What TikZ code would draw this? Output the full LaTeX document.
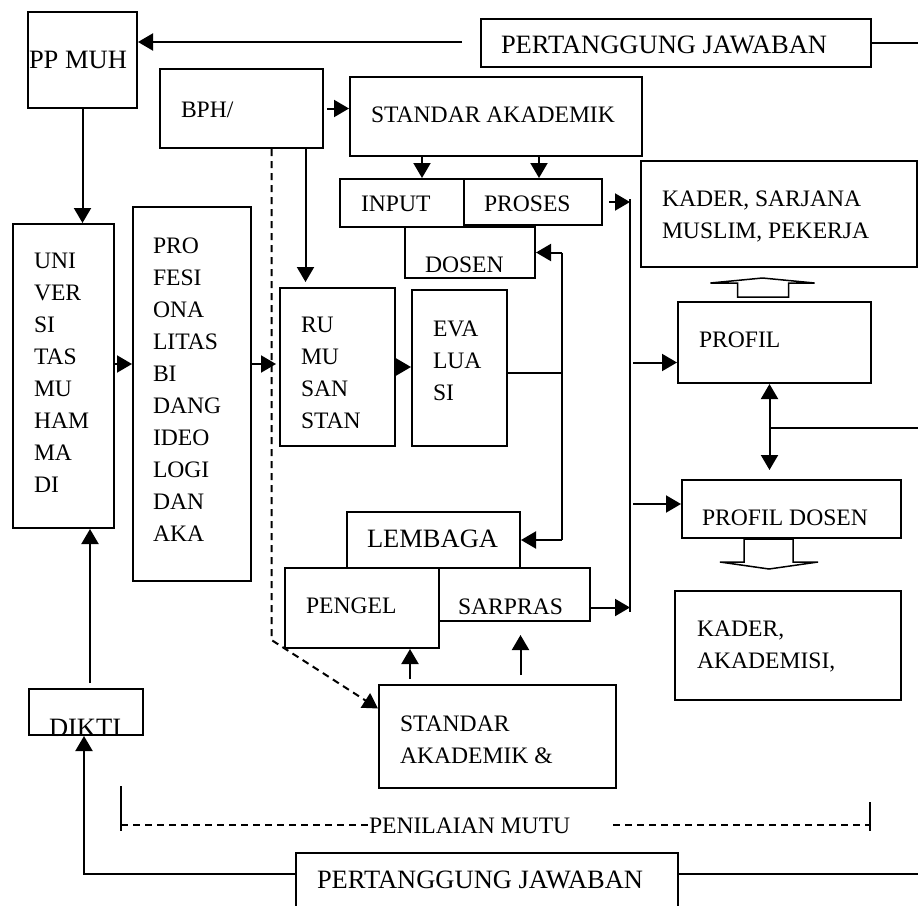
\documentclass[tikz,border=0pt]{standalone}
\usepackage{fontspec}
\setmainfont{Liberation Serif}
\usetikzlibrary{arrows.meta}
\begin{document}
\begin{tikzpicture}[x=1pt,y=-1pt,line width=2pt,
    box/.style={draw, anchor=north west},
    teks/.style={font=\fontsize{23.6}{32}\selectfont, align=left},
    teksbesar/.style={font=\fontsize{26.5}{32}\selectfont},
    arr/.style={-{Triangle[length=15pt,width=17pt]}},
    arrdua/.style={{Triangle[length=15pt,width=17pt]}-{Triangle[length=15pt,width=17pt]}},
    putus/.style={dash pattern=on 7pt off 5pt}]
    \tikzstyle{every node}+=[inner sep=0pt]
    \useasboundingbox (0,0) rectangle (918,905);
    \clip (0,0) rectangle (918,905);
    \node [box, minimum width=109pt, minimum height=96pt] (ppmuh) at (27,11) {};
    \node [box, minimum width=390pt, minimum height=48pt] (pjatas) at (480,18) {};
    \node [box, minimum width=163pt, minimum height=79pt] (bph) at (159,68) {};
    \node [box, minimum width=292pt, minimum height=79pt] (stdak) at (349,76) {};
    \node [box, minimum width=124pt, minimum height=48pt] (input) at (339,178) {};
    \node [box, minimum width=138pt, minimum height=46pt] (proses) at (463,178) {};
    \node [box, minimum width=130pt, minimum height=51pt] (dosen) at (404,226) {};
    \node [box, minimum width=276pt, minimum height=106pt] (kader) at (640,160) {};
    \node [box, minimum width=101pt, minimum height=304pt] (univ) at (12,223) {};
    \node [box, minimum width=118pt, minimum height=374pt] (profesi) at (132,206) {};
    \node [box, minimum width=115pt, minimum height=158pt] (rumus) at (279,287) {};
    \node [box, minimum width=95pt, minimum height=156pt] (evaluasi) at (411,289) {};
    \node [box, minimum width=193pt, minimum height=81pt] (profil) at (677,301) {};
    \node [box, minimum width=219pt, minimum height=58pt] (profdosen) at (681,479) {};
    \node [box, minimum width=173pt, minimum height=56pt] (lembaga) at (346,511) {};
    \node [box, minimum width=154pt, minimum height=80pt] (pengel) at (284,567) {};
    \node [box, minimum width=151pt, minimum height=53pt] (sarpras) at (438,567) {};
    \node [box, minimum width=226pt, minimum height=109pt] (akademisi) at (674,590) {};
    \node [box, minimum width=237pt, minimum height=103pt] (stdsarpras) at (378,684) {};
    \node [box, minimum width=114pt, minimum height=46pt] (dikti) at (28,688) {};
    \node [box, minimum width=382pt, minimum height=70pt] (pjbawah) at (295,852) {};
    \node [teksbesar, anchor=base west] (l-ppmuh) at (28,68) {PP MUH};
    \node [teksbesar, anchor=base west] (l-pjatas) at (500,53) {PERTANGGUNG JAWABAN};
    \node [teks, anchor=base west] (l-bph) at (180,117) {BPH/};
    \node [teks, anchor=base west] (l-stdak) at (370,122) {STANDAR AKADEMIK};
    \node [teks, anchor=base west] (l-input) at (360,211) {INPUT};
    \node [teks, anchor=base west] (l-proses) at (483,211) {PROSES};
    \node [teks, anchor=base west] (l-dosen) at (424,272) {DOSEN};
    \node [teks, anchor=north west] (l-kader) at (661,189.5) {KADER, SARJANA\\MUSLIM, PEKERJA};
    \node [teks, anchor=north west] (l-univ) at (33,252.5) {UNI\\VER\\SI\\TAS\\MU\\HAM\\MA\\DI};
    \node [teks, anchor=north west] (l-profesi) at (152,236.5) {PRO\\FESI\\ONA\\LITAS\\BI\\DANG\\IDEO\\LOGI\\DAN\\AKA};
    \node [teks, anchor=north west] (l-rumus) at (300,316.5) {RU\\MU\\SAN\\STAN};
    \node [teks, anchor=north west] (l-evaluasi) at (432,319.5) {EVA\\LUA\\SI};
    \node [teks, anchor=base west] (l-profil) at (698,347) {PROFIL};
    \node [teks, anchor=base west] (l-profdosen) at (701,525) {PROFIL DOSEN};
    \node [teksbesar, anchor=base west] (l-lembaga) at (366,547) {LEMBAGA};
    \node [teks, anchor=base west] (l-pengel) at (305,613) {PENGEL};
    \node [teks, anchor=base west] (l-sarpras) at (457,614) {SARPRAS};
    \node [teks, anchor=north west] (l-akademisi) at (696,619.5) {KADER,\\AKADEMISI,};
    \node [teks, anchor=north west] (l-stdsarpras) at (399,714.5) {STANDAR\\AKADEMIK \&};
    \node [teksbesar, anchor=base west] (l-dikti) at (48,736) {DIKTI};
    \node [teks, anchor=base west] (mutu) at (368,833) {PENILAIAN MUTU};
    \node [teksbesar, anchor=base west] (l-pjbawah) at (316,888) {PERTANGGUNG JAWABAN};
    \coordinate (pjmasuk) at (462,42);
    \coordinate (tepi) at (918,42);
    \coordinate (jalur) at (630,199);
    \coordinate (jalurbawah) at (630,612);
    \coordinate (balik) at ([xshift=26pt]dosen.east);
    \coordinate (balikbawah) at (balik |- lembaga.east);
    \coordinate (mutukiri) at (121,786);
    \coordinate (mutukanan) at (870,802);
    \draw [arr] (pjmasuk) -- (pjmasuk -| ppmuh.east);
    \draw (pjatas.east) -- (pjatas.east -| tepi);
    \draw [arr] (ppmuh.south) -- (ppmuh.south |- univ.north);
    \draw [arr, putus, shorten <=3pt] (bph.east) -- (bph.east -| stdak.west);
    \draw [arr] ([xshift=20pt]input.north |- stdak.south) -- ([xshift=20pt]input.north);
    \draw [arr] ([xshift=6pt]proses.north |- stdak.south) -- ([xshift=6pt]proses.north);
    \draw (jalur) -- (jalurbawah);
    \draw [arr, shorten <=6pt] (proses.east) -- (proses.east -| jalur);
    \draw [arr] ([yshift=-13pt]sarpras.east) -- ([yshift=-13pt]sarpras.east -| jalur);
    \draw [arr, shorten <=3pt] ([yshift=-20pt]profil.west -| jalur) -- ([yshift=-20pt]profil.west);
    \draw [arr, shorten <=3pt] ([yshift=5pt]profdosen.west -| jalur) -- ([yshift=5pt]profdosen.west);
    \draw [arr, shorten >=5pt] ([xshift=-32pt]rumus.north |- bph.south) -- ([xshift=-32pt]rumus.north);
    \draw [arr, putus] ([xshift=30pt]bph.south) -- ++(0,491) -- ([yshift=28pt]stdsarpras.west);
    \draw [arr] ([yshift=12pt]univ.east) -- ([yshift=12pt]univ.east -| profesi.west);
    \draw [arr, shorten >=3pt] ([yshift=30pt]profesi.east) -- ([yshift=30pt]profesi.east -| rumus.west);
    \draw [arr] (rumus.east) -- (rumus.east -| evaluasi.west);
    \draw (balik) -- (balikbawah);
    \draw [arr] (balik) -- (dosen.east);
    \draw [arr] (balikbawah) -- (lembaga.east);
    \draw ([yshift=-5pt]evaluasi.east) -- ([yshift=-5pt]evaluasi.east -| balik);
    \draw [arr, shorten <=5pt] ([xshift=48pt]pengel.south |- stdsarpras.north) -- ([xshift=48pt]pengel.south);
    \draw [arr, shorten <=9pt, shorten >=13pt] ([xshift=6pt]sarpras.south |- stdsarpras.north) -- ([xshift=6pt]sarpras.south);
    \draw [arrdua, shorten >=9pt] ([xshift=-5pt]profil.south) -- ([xshift=-5pt]profil.south |- profdosen.north);
    \draw ([xshift=-5pt,yshift=-44pt]profil.south) -- ([yshift=-44pt]profil.south -| tepi);
    \draw [line width=1.5pt] ([xshift=-37pt,yshift=4pt]profil.north) -- ++(0,-14) -- ++(-27,0) -- ++(52,-5) -- ++(52,5) -- ++(-26,0) -- ++(0,14) -- cycle;
    \draw [line width=1.5pt] ([xshift=-47.5pt]profdosen.south) -- ++(0,23) -- ++(-24,0) -- ++(49,7) -- ++(49,-7) -- ++(-25,0) -- ++(0,-23) -- cycle;
    \draw [arr, shorten <=5pt] ([xshift=4pt]dikti.north) -- ([xshift=4pt]dikti.north |- univ.south);
    \draw [arr] ([yshift=14pt]pjbawah.west) -| ([xshift=-2pt]dikti.south);
    \draw ([yshift=14pt]pjbawah.east) -- ([yshift=14pt]pjbawah.east -| tepi);
    \draw (mutukiri) -- ++(0,45);
    \draw (mutukanan) -- ++(0,29);
    \draw [putus] (mutu.west -| mutukiri) -- (mutu.west);
    \draw [putus] ([xshift=42pt]mutu.east) -- (mutukanan |- mutu.east);
\end{tikzpicture}
\end{document}
